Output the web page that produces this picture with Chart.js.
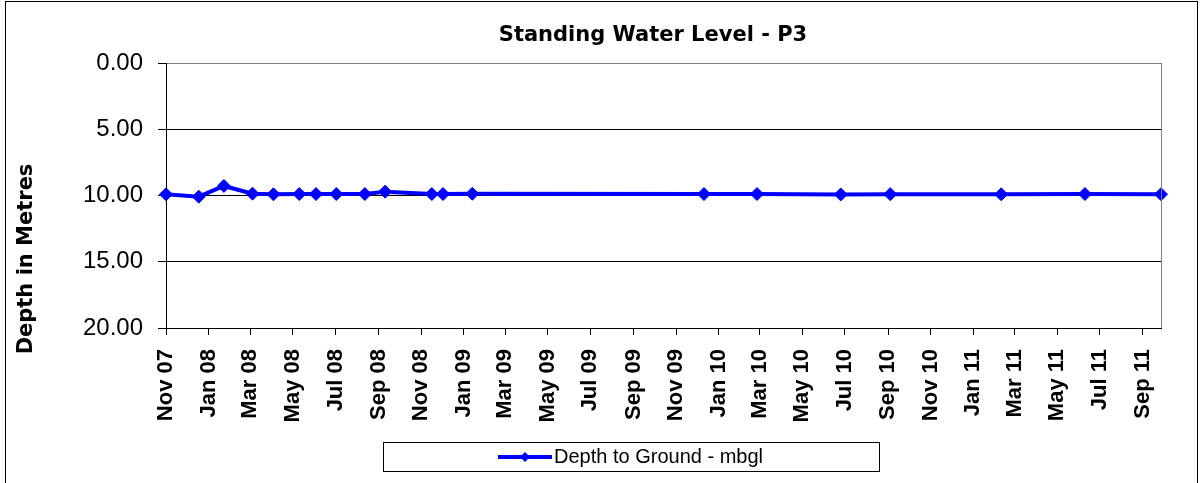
<!DOCTYPE html>
<html>
<head>
<meta charset="utf-8">
<script src="https://cdn.jsdelivr.net/npm/chart.js@4/dist/chart.umd.min.js"></script>
<style>
  html, body { margin: 0; padding: 0; background: #fff; }
  #wrap { width: 1203px; height: 483px; position: relative; }
</style>
</head>
<body>
<div id="wrap"><canvas id="swlChart"></canvas></div>
<script>
// sample dates and depth readings (metres below ground level)
const sampleDates = [
  "2007-11-01", "2007-12-18", "2008-01-23", "2008-03-04", "2008-04-03",
  "2008-05-10", "2008-06-03", "2008-07-02", "2008-08-12", "2008-09-10",
  "2008-11-16", "2008-12-02", "2009-01-13", "2009-12-11", "2010-02-25",
  "2010-06-25", "2010-09-04", "2011-02-10", "2011-06-10", "2011-09-27"
];
const depthValues = [
  9.91, 10.09, 9.28, 9.86, 9.91,
  9.89, 9.89, 9.89, 9.89, 9.71,
  9.89, 9.89, 9.87, 9.89, 9.89,
  9.92, 9.90, 9.91, 9.89, 9.90
];
const axisStart = "2007-11-01";
const axisEnd = "2011-09-27";
const monthNames = ["Jan", "Feb", "Mar", "Apr", "May", "Jun", "Jul", "Aug", "Sep", "Oct", "Nov", "Dec"];
const depthTicks = [0, 5, 10, 15, 20];

const chartTitle = "Standing Water Level - P3";
const yTitle = "Depth in Metres";
const seriesName = "Depth to Ground - mbgl";

function toTime(s) {
  const [y, m, d] = s.split("-").map(Number);
  return Date.UTC(y, m - 1, d);
}

const points = sampleDates.map((d, i) => ({ x: toTime(d), y: depthValues[i] }));

// frame, title, y title, right border and the boxed legend
const decorations = {
  id: "decorations",
  afterDraw(chart) {
    const { ctx, chartArea } = chart;
    ctx.save();
    ctx.strokeStyle = "#808080";
    ctx.lineWidth = 1;
    ctx.beginPath();
    ctx.moveTo(Math.round(chartArea.right) + 0.5, chartArea.top);
    ctx.lineTo(Math.round(chartArea.right) + 0.5, chartArea.bottom);
    ctx.stroke();

    ctx.strokeStyle = "#000";
    ctx.strokeRect(5.5, 1.5, 1192, 500);

    ctx.fillStyle = "#000";
    ctx.font = "bold 21px 'DejaVu Sans'";
    ctx.textAlign = "center";
    ctx.textBaseline = "middle";
    ctx.fillText(chartTitle, 653, 36);

    ctx.translate(27, 259);
    ctx.rotate(-Math.PI / 2);
    ctx.fillText(yTitle, 0, 0);
    ctx.restore();

    // legend
    ctx.save();
    ctx.strokeStyle = "#000";
    ctx.lineWidth = 1;
    ctx.fillStyle = "#fff";
    ctx.fillRect(383, 442, 496, 29);
    ctx.strokeRect(383.5, 442.5, 496, 29);
    const ds = chart.data.datasets[0];
    ctx.strokeStyle = ds.borderColor;
    ctx.lineWidth = 4;
    ctx.beginPath();
    ctx.moveTo(498, 457);
    ctx.lineTo(552, 457);
    ctx.stroke();
    ctx.fillStyle = ds.borderColor;
    ctx.beginPath();
    ctx.moveTo(525, 452);
    ctx.lineTo(530, 457);
    ctx.lineTo(525, 462);
    ctx.lineTo(520, 457);
    ctx.closePath();
    ctx.fill();
    ctx.fillStyle = "#000";
    ctx.font = "20px 'Liberation Sans'";
    ctx.textAlign = "left";
    ctx.textBaseline = "middle";
    ctx.fillText(ds.label, 554, 457);
    ctx.restore();
  }
};

new Chart(document.getElementById("swlChart"), {
  type: "line",
  data: {
    datasets: [{
      label: seriesName,
      data: points,
      borderColor: "#0000FF",
      backgroundColor: "#0000FF",
      borderWidth: 4,
      tension: 0,
      pointStyle: "rectRot",
      pointRadius: 6.5,
      pointBorderWidth: 1,
      pointBackgroundColor: "#0000FF",
      pointBorderColor: "#0000FF",
      clip: false
    }]
  },
  options: {
    responsive: true,
    maintainAspectRatio: false,
    animation: false,
    layout: { padding: { top: 63, right: 42, bottom: 0, left: 0 } },
    plugins: {
      legend: { display: false },
      title: { display: false },
      tooltip: { enabled: false }
    },
    scales: {
      x: {
        type: "linear",
        min: toTime(axisStart),
        max: toTime(axisEnd),
        afterBuildTicks(scale) {
          const ticks = [];
          const start = new Date(toTime(axisStart));
          let y = start.getUTCFullYear();
          let m = start.getUTCMonth();
          while (Date.UTC(y, m, 1) <= scale.max) {
            ticks.push({ value: Date.UTC(y, m, 1) });
            m += 2;
            if (m > 11) { m -= 12; y++; }
          }
          scale.ticks = ticks;
        },
        afterFit(scale) { scale.height = 155; },
        ticks: {
          autoSkip: false,
          minRotation: 90,
          maxRotation: 90,
          padding: 14,
          color: "#000",
          font: { family: "'Liberation Sans'", size: 22, weight: "bold" },
          callback(value) {
            const d = new Date(value);
            return monthNames[d.getUTCMonth()] + " " + String(d.getUTCFullYear()).slice(2);
          }
        },
        grid: {
          display: true,
          drawOnChartArea: false,
          drawTicks: true,
          tickLength: 7,
          color: "#000"
        },
        border: { color: "#000", width: 1 }
      },
      y: {
        reverse: true,
        min: depthTicks[0],
        max: depthTicks[depthTicks.length - 1],
        afterBuildTicks(scale) {
          scale.ticks = depthTicks.map(v => ({ value: v }));
        },
        afterFit(scale) { scale.width = 166; },
        ticks: {
          padding: 15,
          color: "#000",
          font: { family: "'Liberation Sans'", size: 24 },
          callback(value) { return Number(value).toFixed(2); }
        },
        grid: {
          color: (ctx) => (ctx.tick && ctx.tick.value === 0 ? "#808080" : "#000"),
          tickColor: "#000",
          tickLength: 8,
          lineWidth: 1
        },
        border: { color: "#000", width: 1 }
      }
    }
  },
  plugins: [decorations]
});
</script>
</body>
</html>
